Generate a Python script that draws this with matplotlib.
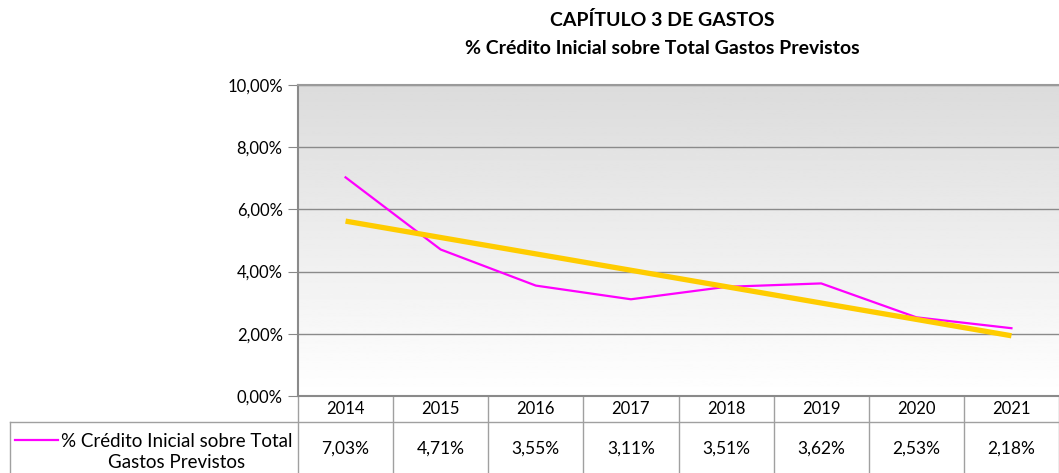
import numpy as np
import matplotlib.pyplot as plt
from matplotlib.ticker import FuncFormatter
import matplotlib.transforms as mtransforms
from matplotlib.lines import Line2D

plt.rcParams['font.family'] = ['Lato', 'DejaVu Sans']

# datos
years = ['2014', '2015', '2016', '2017', '2018', '2019', '2020', '2021']
pct_credito = [7.03, 4.71, 3.55, 3.11, 3.51, 3.62, 2.53, 2.18]
serie_label = '% Crédito Inicial sobre Total\nGastos Previstos'
title_1 = 'CAPÍTULO 3 DE GASTOS'
title_2 = '% Crédito Inicial sobre Total Gastos Previstos'

W, H = 1059, 473
fig = plt.figure(figsize=(W / 100, H / 100), dpi=100)
ax = fig.add_axes([298 / W, (H - 396) / H, 1 - 298 / W, 311 / H])

x = np.arange(len(years))

# fondo degradado gris
grad = np.linspace(0.86, 1.0, 256).reshape(-1, 1)
ax.imshow(grad, cmap='gray', vmin=0, vmax=1, aspect='auto',
          extent=[0, 1, 0, 1], transform=ax.transAxes, zorder=0)

ax.set_xlim(-0.5, len(years) - 0.5)
ax.set_ylim(0, 10)
ax.set_yticks(np.arange(0, 10.1, 2))
ax.yaxis.set_major_formatter(FuncFormatter(lambda v, p: f'{v:.2f}%'.replace('.', ',')))
ax.tick_params(axis='y', length=7, color='#888888', labelsize=12, pad=4)
ax.set_xticks([])
ax.grid(axis='y', color='#8a8a8a', lw=1)
ax.set_axisbelow(True)
ax.spines['right'].set_visible(False)
ax.spines['top'].set_color('#9a9a9a')
ax.spines['left'].set_color('#8a8a8a')
ax.spines['bottom'].set_color('#8a8a8a')
for s in ['top', 'left', 'bottom']:
    ax.spines[s].set_linewidth(1.5)

# serie y tendencia lineal
ax.plot(x, pct_credito, color='#FF00FF', lw=1.6, zorder=3)
coef = np.polyfit(x, pct_credito, 1)
ax.plot(x, np.polyval(coef, x), color='#FFCC00', lw=3.8, zorder=4,
        solid_capstyle='butt')

# tabla de datos
tr = mtransforms.blended_transform_factory(ax.transData, ax.transAxes)
y_row1 = -26 / 311
y_bot = -80 / 311
grid_c = '#a0a0a0'
for i in range(len(years) + 1):
    ax.add_line(Line2D([i - 0.5, i - 0.5], [0, y_bot], transform=tr,
                       color=grid_c, lw=1, clip_on=False))
for i, (yr, v) in enumerate(zip(years, pct_credito)):
    ax.text(i, y_row1 / 2, yr, transform=tr, ha='center', va='center', fontsize=12)
    ax.text(i, (y_row1 + y_bot) / 2, f'{v:.2f}%'.replace('.', ','), transform=tr,
            ha='center', va='center', fontsize=12.5)

ftr = fig.transFigure
fig.add_artist(Line2D([10 / W, 1], [(H - 422) / H] * 2, transform=ftr, color=grid_c, lw=1))
fig.add_artist(Line2D([10 / W, 10 / W], [(H - 422) / H, 0], transform=ftr, color=grid_c, lw=1))
fig.add_artist(Line2D([15 / W, 58 / W], [(H - 440) / H] * 2, transform=ftr, color='#FF00FF', lw=1.6))
fig.text(177 / W, (H - 452) / H, serie_label, ha='center', va='center',
         fontsize=13.5, multialignment='center', linespacing=1.3)

fig.text(662 / W, (H - 20) / H, title_1, ha='center', va='center', fontsize=14, fontweight='bold')
fig.text(662 / W, (H - 48) / H, title_2, ha='center', va='center', fontsize=14, fontweight='bold')

fig.savefig('out.png', dpi=100)
